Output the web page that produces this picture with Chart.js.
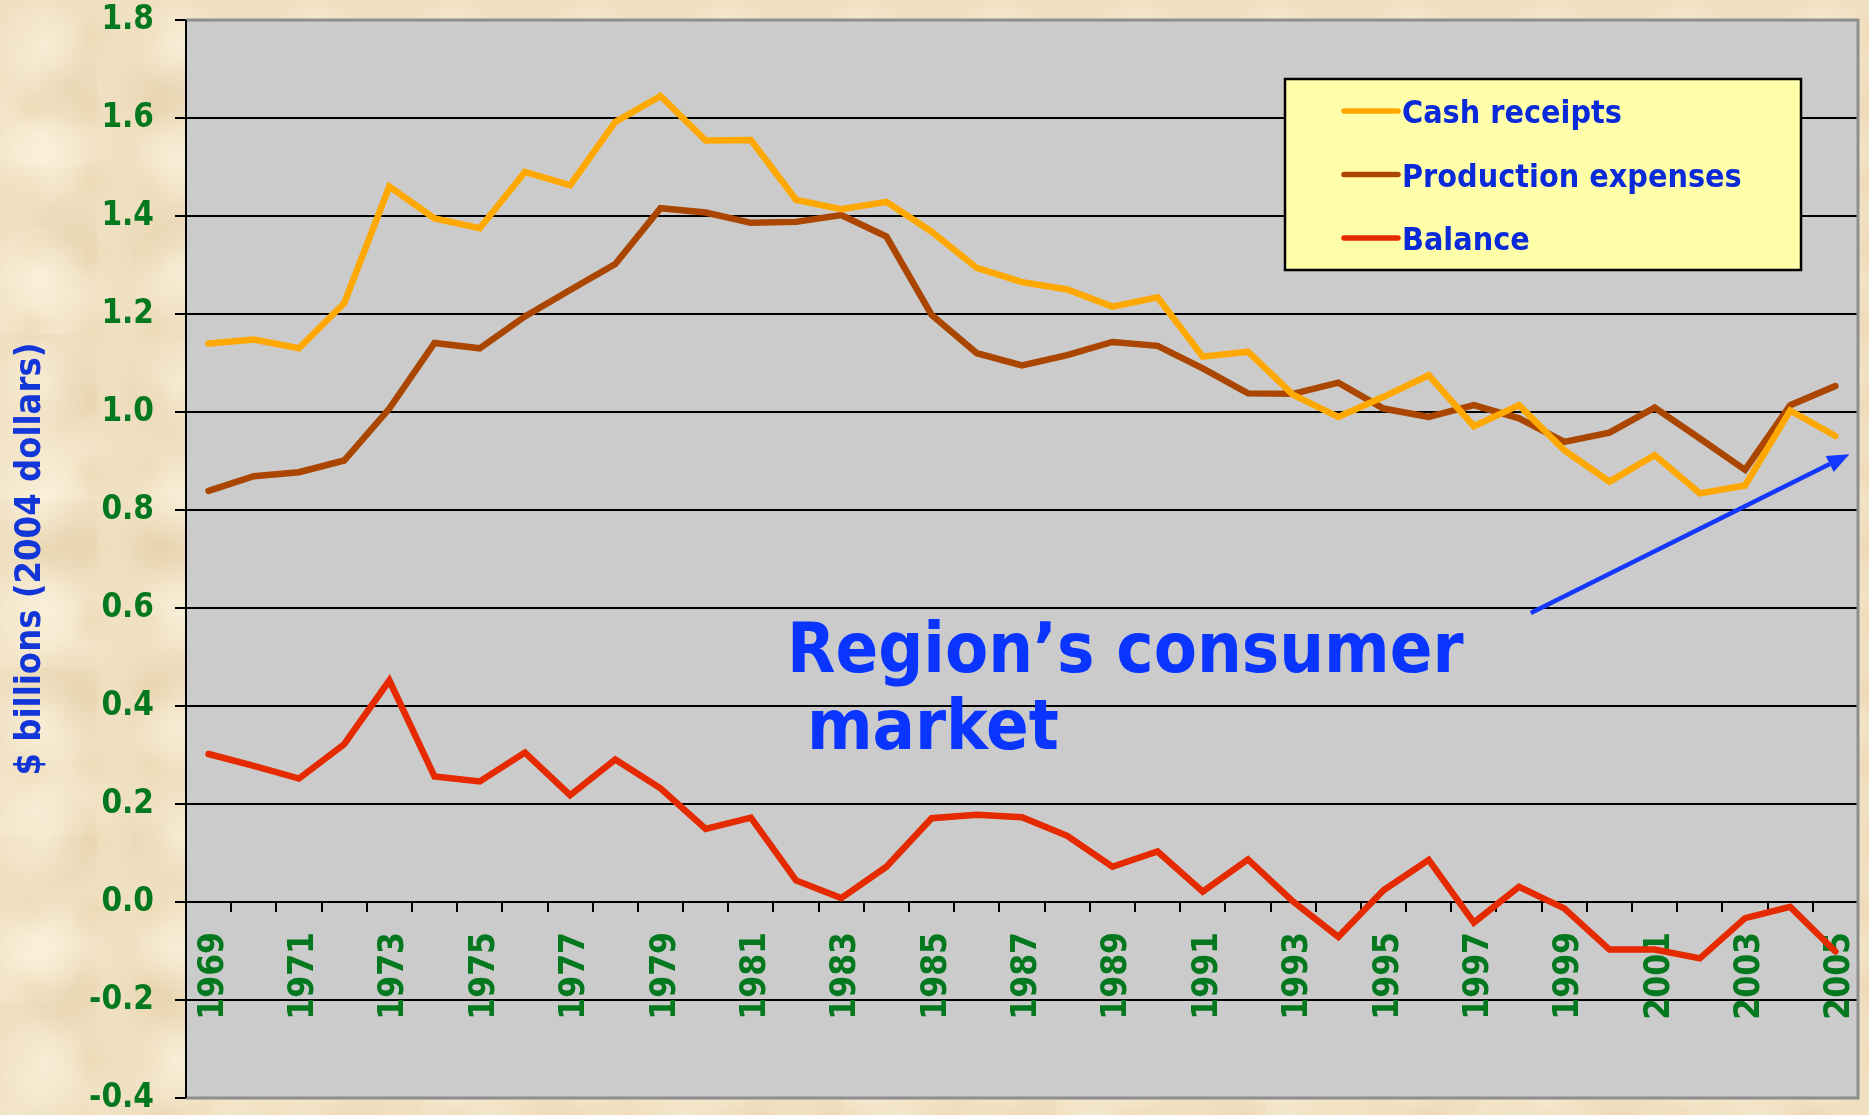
<!DOCTYPE html>
<html>
<head>
<meta charset="utf-8">
<script src="https://cdn.jsdelivr.net/npm/chart.js@4.4.1/dist/chart.umd.min.js"></script>
<style>
html,body{margin:0;padding:0;width:1869px;height:1115px;overflow:hidden;}
body{
  background-color:#f0e0c2;
  background-image:
    radial-gradient(circle at 30% 40%, rgba(255,249,232,0.55) 0, rgba(255,249,232,0) 42%),
    radial-gradient(circle at 70% 60%, rgba(214,188,140,0.30) 0, rgba(214,188,140,0) 46%),
    radial-gradient(circle at 50% 50%, rgba(232,208,162,0.35) 0, rgba(232,208,162,0) 50%),
    radial-gradient(circle at 20% 80%, rgba(255,246,226,0.40) 0, rgba(255,246,226,0) 38%);
  background-size:137px 113px, 97px 151px, 61px 73px, 211px 167px;
}
#wrap{position:absolute;left:0;top:0;width:1869px;height:1115px;}
canvas{display:block;}
</style>
</head>
<body>
<div id="wrap"><canvas id="chart" width="1869" height="1115"></canvas></div>
<script>
// ---------------- data ----------------
const years = ['1969','1970','1971','1972','1973','1974','1975','1976','1977','1978',
  '1979','1980','1981','1982','1983','1984','1985','1986','1987','1988',
  '1989','1990','1991','1992','1993','1994','1995','1996','1997','1998',
  '1999','2000','2001','2002','2003','2004','2005'];

const cashReceipts = [1.140, 1.148, 1.130, 1.222, 1.460, 1.395, 1.375, 1.490, 1.463, 1.592,
  1.645, 1.554, 1.555, 1.433, 1.414, 1.429, 1.368, 1.294, 1.265, 1.250,
  1.215, 1.234, 1.113, 1.123, 1.035, 0.990, 1.031, 1.075, 0.971, 1.014,
  0.922, 0.858, 0.912, 0.834, 0.850, 1.003, 0.951];

const productionExpenses = [0.839, 0.869, 0.877, 0.901, 1.007, 1.141, 1.130, 1.195, 1.249, 1.302,
  1.416, 1.407, 1.386, 1.388, 1.402, 1.358, 1.198, 1.120, 1.095, 1.116,
  1.143, 1.135, 1.089, 1.038, 1.037, 1.060, 1.007, 0.990, 1.014, 0.987,
  0.939, 0.958, 1.009, 0.946, 0.882, 1.014, 1.053];

const balance = [0.302, 0.278, 0.252, 0.322, 0.452, 0.256, 0.246, 0.305, 0.218, 0.291,
  0.232, 0.149, 0.172, 0.044, 0.008, 0.072, 0.171, 0.178, 0.173, 0.135,
  0.072, 0.103, 0.021, 0.087, 0.001, -0.071, 0.024, 0.086, -0.042, 0.031,
  -0.013, -0.097, -0.097, -0.115, -0.033, -0.010, -0.101];

const seriesNames = ['Cash receipts', 'Production expenses', 'Balance'];
const yAxisMin = -0.4;
const yAxisMax = 1.8;
const yAxisStep = 0.2;
const yAxisTitle = '$ billions (2004 dollars)';

// annotation text and arrow (in data coordinates: category index, value)
const noteLines = ['Region\u2019s consumer', 'market'];
const noteAnchors = [[12.80, 0.470], [13.24, 0.312]];
const arrowFrom = [29.26, 0.590];
const arrowTo = [36.31, 0.914];

// ---------------- styles ----------------
const FONT = "'DejaVu Sans Condensed', 'DejaVu Sans', sans-serif";
const COLORS = ['#FFA800', '#AA4600', '#E62A00'];
const GREEN = '#04781E';
const LEGEND_BLUE = '#0A2ADA';
const TITLE_BLUE = '#1236D8';
const NOTE_BLUE = '#0A34FF';
const PLOT_BG = '#CBCBCB';

const plotBackground = {
  id: 'plotBackground',
  beforeDraw(chart) {
    const {ctx, chartArea: a} = chart;
    ctx.save();
    ctx.fillStyle = PLOT_BG;
    ctx.fillRect(a.left, a.top, a.right - a.left, a.bottom - a.top);
    ctx.restore();
  }
};

const plotBorder = {
  id: 'plotBorder',
  beforeDatasetsDraw(chart) {
    const {ctx, chartArea: a} = chart;
    ctx.save();
    ctx.strokeStyle = '#8E8E8E';
    ctx.lineWidth = 3;
    ctx.beginPath();
    ctx.moveTo(a.left, a.top);
    ctx.lineTo(a.right, a.top);
    ctx.lineTo(a.right, a.bottom);
    ctx.lineTo(a.left, a.bottom);
    ctx.stroke();
    ctx.strokeStyle = '#000';
    ctx.lineWidth = 2;
    ctx.beginPath();
    ctx.moveTo(a.left, a.top);
    ctx.lineTo(a.left, a.bottom);
    ctx.stroke();
    ctx.restore();
  }
};

const annotations = {
  id: 'annotations',
  afterDatasetsDraw(chart) {
    const {ctx, scales: {x, y}} = chart;
    ctx.save();
    ctx.fillStyle = NOTE_BLUE;
    ctx.font = "bold 70px " + FONT;
    ctx.textAlign = 'left';
    ctx.textBaseline = 'alphabetic';
    noteLines.forEach((t, i) => {
      ctx.fillText(t, x.getPixelForValue(noteAnchors[i][0]), y.getPixelForValue(noteAnchors[i][1]));
    });
    const x0 = x.getPixelForValue(arrowFrom[0]), y0 = y.getPixelForValue(arrowFrom[1]);
    const x1 = x.getPixelForValue(arrowTo[0]), y1 = y.getPixelForValue(arrowTo[1]);
    const ang = Math.atan2(y1 - y0, x1 - x0);
    const headLen = 22, headW = 9;
    const bx = x1 - headLen * Math.cos(ang), by = y1 - headLen * Math.sin(ang);
    ctx.strokeStyle = '#1438FF';
    ctx.lineWidth = 4.5;
    ctx.lineCap = 'butt';
    ctx.beginPath();
    ctx.moveTo(x0, y0);
    ctx.lineTo(bx, by);
    ctx.stroke();
    ctx.fillStyle = '#1438FF';
    ctx.beginPath();
    ctx.moveTo(x1, y1);
    ctx.lineTo(bx + headW * Math.sin(ang), by - headW * Math.cos(ang));
    ctx.lineTo(bx - headW * Math.sin(ang), by + headW * Math.cos(ang));
    ctx.closePath();
    ctx.fill();
    ctx.restore();
  }
};

const boxLegend = {
  id: 'boxLegend',
  afterDraw(chart) {
    const {ctx, chartArea: a} = chart;
    const w = 516, h = 191;
    const lx = a.right - 57 - w, ly = a.top + 59;
    ctx.save();
    ctx.fillStyle = '#FFFFAA';
    ctx.fillRect(lx, ly, w, h);
    ctx.strokeStyle = '#000';
    ctx.lineWidth = 2.5;
    ctx.strokeRect(lx, ly, w, h);
    ctx.font = "bold 32px " + FONT;
    ctx.textAlign = 'left';
    ctx.textBaseline = 'alphabetic';
    chart.data.datasets.forEach((ds, i) => {
      const cy = ly + 32 + i * 63.5;
      ctx.strokeStyle = ds.borderColor;
      ctx.lineWidth = 5.5;
      ctx.lineCap = 'round';
      ctx.beginPath();
      ctx.moveTo(lx + 59, cy);
      ctx.lineTo(lx + 113, cy);
      ctx.stroke();
      ctx.fillStyle = LEGEND_BLUE;
      ctx.fillText(ds.label, lx + 117, cy + 12);
    });
    ctx.restore();
  }
};

const seriesData = [cashReceipts, productionExpenses, balance];

new Chart(document.getElementById('chart'), {
  type: 'line',
  data: {
    labels: years,
    datasets: seriesNames.map((name, i) => ({
      label: name,
      data: seriesData[i],
      borderColor: COLORS[i],
      backgroundColor: COLORS[i],
      borderWidth: 6.5,
      pointRadius: 0,
      tension: 0,
      fill: false,
      borderCapStyle: 'round',
      borderJoinStyle: 'miter'
    }))
  },
  options: {
    responsive: false,
    animation: false,
    layout: {padding: {top: 20, right: 11, bottom: 17, left: 0}},
    plugins: {legend: {display: false}, tooltip: {enabled: false}, title: {display: false}},
    scales: {
      x: {
        type: 'category',
        position: {y: 0},
        offset: true,
        afterFit: (s) => { s.paddingLeft = 0; s.paddingRight = 0; s.paddingTop = 0; s.paddingBottom = 0; },
        grid: {display: true, drawOnChartArea: false, drawTicks: true, tickLength: 10,
               color: '#000', tickColor: '#000', lineWidth: 2, offset: true},
        border: {display: false},
        ticks: {
          autoSkip: false, minRotation: 90, maxRotation: 90, padding: 20, labelOffset: 5,
          color: GREEN, font: {family: FONT, size: 35, weight: 'bold', lineHeight: 1.0},
          callback: (v, i) => (i % 2 === 0 ? years[i] : '')
        }
      },
      y: {
        position: 'left',
        min: yAxisMin,
        max: yAxisMax,
        afterFit: (s) => { s.width = 186; s.paddingTop = 0; s.paddingBottom = 0; },
        grid: {
          drawOnChartArea: true, drawTicks: true, tickLength: 11, lineWidth: 2,
          color: (c) => (c.index === 0 || c.index === 11 ? 'rgba(0,0,0,0)' : '#000'),
          tickColor: '#000'
        },
        border: {display: true, color: '#000', width: 2},
        ticks: {
          stepSize: yAxisStep, padding: 21, color: GREEN,
          font: {family: FONT, size: 33, weight: 'bold', lineHeight: 1.0},
          callback: (v) => Number(v).toFixed(1)
        },
        title: {
          display: true, text: yAxisTitle, color: TITLE_BLUE,
          font: {family: FONT, size: 36, weight: 'bold', lineHeight: 1.2},
          padding: {top: 9, bottom: 0}
        }
      }
    }
  },
  plugins: [plotBackground, plotBorder, annotations, boxLegend]
});
</script>
</body>
</html>
